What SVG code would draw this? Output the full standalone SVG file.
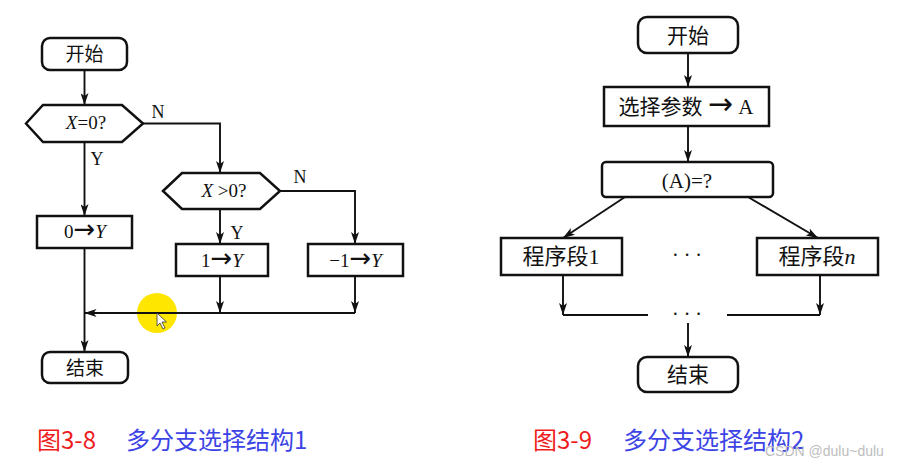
<svg xmlns="http://www.w3.org/2000/svg" width="899" height="468" viewBox="0 0 899 468">
<defs>
<marker id="ah" markerUnits="userSpaceOnUse" markerWidth="12" markerHeight="8" viewBox="0 0 12 8" refX="12" refY="4" orient="auto">
<path d="M0,0 L12,4 L0,8 L3,4 Z" fill="#111"/>
</marker>
<style>
.box{fill:#fff;stroke:#111;stroke-width:2.5}
.ln{fill:none;stroke:#111;stroke-width:1.9}
.arr{fill:none;stroke:#111;stroke-width:1.9;marker-end:url(#ah)}
.t{font-family:"Liberation Serif","Noto Sans CJK SC",serif;fill:#111;text-anchor:middle}
.ar{font-family:"DejaVu Sans",sans-serif}
.cap{font-family:"Noto Sans CJK SC","Liberation Sans",sans-serif;font-size:24px}
</style>
</defs>
<rect width="899" height="468" fill="#fff"/>

<!-- highlight behind line -->
<circle cx="157" cy="313" r="20" fill="#ffe600"/>

<g id="connectors">
<path class="arr" d="M84.5,70 V105"/>
<path class="arr" d="M143,123.5 H220 V173"/>
<path class="arr" d="M84.5,142 V216"/>
<path class="arr" d="M220,209 V244"/>
<path class="arr" d="M280,191 H355 V244"/>
<path class="arr" d="M220,276 V313"/>
<path class="arr" d="M355,276 V313"/>
<path class="arr" d="M355,313 H84.5"/>
<path class="arr" d="M84.5,248 V352"/>

<path class="arr" d="M688,53 V87"/>
<path class="arr" d="M688,126 V162"/>
<path class="arr" d="M625,197 L563,238"/>
<path class="arr" d="M748,197 L818,238"/>
<path class="arr" d="M563,275 V315"/>
<path class="arr" d="M820,275 V315"/>
<path class="ln" d="M563,315 H648"/>
<path class="ln" d="M727,315 H820"/>
<path class="arr" d="M688,323 V357"/>
</g>

<!-- cursor -->
<path d="M157,313 L157,326 L160,323 L163,329 L165,328 L162,322 L166.5,322 Z" fill="#fff" stroke="#333" stroke-width="0.8"/>

<g id="start1">
<rect class="box" x="42" y="38" width="85" height="32" rx="8"/>
<text class="t" x="84.5" y="61" font-size="19">开始</text>
</g>
<g id="cond1">
<polygon class="box" points="26,123.5 43,105 122,105 143,123.5 122,142 43,142"/>
<text class="t" x="86" y="129" font-size="19"><tspan font-style="italic">X</tspan>=0?</text>
</g>
<g id="lblN1"><text class="t" x="158" y="118" font-size="18">N</text></g>
<g id="lblY1"><text class="t" x="97" y="165" font-size="18">Y</text></g>
<g id="zeroY">
<rect class="box" x="37" y="216" width="95" height="32"/>
<text class="t" x="85" y="238" font-size="19">0<tspan class="ar" font-size="26">→</tspan><tspan font-style="italic">Y</tspan></text>
</g>
<g id="cond2">
<polygon class="box" points="163,191 182,173 260,173 280,191 260,209 182,209"/>
<text class="t" x="224" y="197" font-size="19"><tspan font-style="italic">X</tspan> &gt;0?</text>
</g>
<g id="lblY2"><text class="t" x="237" y="239" font-size="18">Y</text></g>
<g id="lblN2"><text class="t" x="300" y="183" font-size="18">N</text></g>
<g id="oneY">
<rect class="box" x="176" y="244" width="92" height="32"/>
<text class="t" x="222" y="267" font-size="19">1<tspan class="ar" font-size="26">→</tspan><tspan font-style="italic">Y</tspan></text>
</g>
<g id="minusOneY">
<rect class="box" x="308" y="244" width="95" height="32"/>
<text class="t" x="355.5" y="267" font-size="19">−1<tspan class="ar" font-size="26">→</tspan><tspan font-style="italic">Y</tspan></text>
</g>
<g id="end1">
<rect class="box" x="42" y="352" width="86" height="31" rx="8"/>
<text class="t" x="85" y="375" font-size="19">结束</text>
</g>

<g id="start2">
<rect class="box" x="638" y="17" width="100" height="36" rx="9"/>
<text class="t" x="688" y="43" font-size="21">开始</text>
</g>
<g id="select">
<rect class="box" x="604" y="87" width="165" height="39"/>
<text class="t" x="686" y="114" font-size="21">选择参数 <tspan class="ar" font-size="30">→</tspan> A</text>
</g>
<g id="switch">
<rect class="box" x="602" y="162" width="171" height="35" rx="4"/>
<text class="t" x="687" y="188" font-size="21">(A)=?</text>
</g>
<g id="seg1">
<rect class="box" x="501" y="238" width="121" height="37"/>
<text class="t" x="561" y="264" font-size="22">程序段1</text>
</g>
<g id="dots1"><text class="t" x="687" y="262" font-size="20">· · ·</text></g>
<g id="segn">
<rect class="box" x="757" y="238" width="121" height="37"/>
<text class="t" x="817" y="264" font-size="22">程序段<tspan font-style="italic">n</tspan></text>
</g>
<g id="dots2"><text class="t" x="687" y="321" font-size="20">· · ·</text></g>
<g id="end2">
<rect class="box" x="638" y="357" width="100" height="35" rx="9"/>
<text class="t" x="688" y="382" font-size="21">结束</text>
</g>

<g id="captions">
<text class="cap" x="37" y="449" fill="#ee1c1c">图3-8</text>
<text class="cap" x="126" y="449" fill="#3c44e6">多分支选择结构1</text>
<text class="cap" x="533" y="449" fill="#ee1c1c">图3-9</text>
<text class="cap" x="623" y="449" fill="#3c44e6">多分支选择结构2</text>
<text x="765" y="456" font-family="Liberation Sans, sans-serif" font-size="14" fill="#bdbdbd">CSDN @dulu~dulu</text>
</g>
</svg>
